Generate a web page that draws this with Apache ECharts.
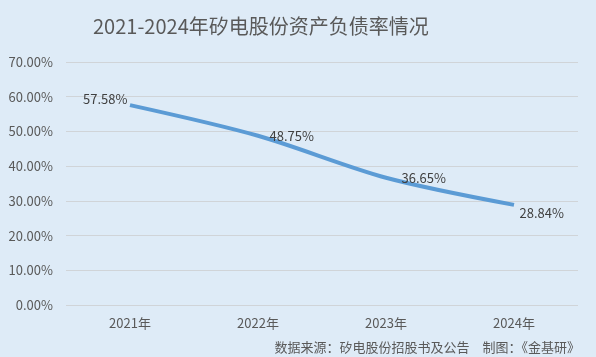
<!DOCTYPE html>
<html><head><meta charset="utf-8">
<script src="https://cdn.jsdelivr.net/npm/echarts@6/dist/echarts.min.js"></script>
<style>html,body{margin:0;padding:0;background:#deebf7;}#c{width:596px;height:357px;}</style>
</head><body><div id="c"></div>
<script>
const categories = ['2021年','2022年','2023年','2024年'];
const debtRatio = [57.58, 48.75, 36.65, 28.84];
const titleText = '2021-2024年矽电股份资产负债率情况';
const sourceText = '数据来源：矽电股份招股书及公告　制图：《金基研》';
const labelPos = [['left',[3,-6]],['right',[6,0]],['right',[10,0]],['right',[0,8]]];

const chart = echarts.init(document.getElementById('c'));
const font = '"Noto Sans CJK SC", "Noto Sans", sans-serif';
chart.setOption({
  backgroundColor: '#deebf7',
  textStyle: {fontFamily: font},
  title: [{
    text: titleText, left: 88, top: 11,
    textStyle: {fontSize: 20, fontWeight: 'normal', color: '#595959', fontFamily: font}
  },{
    text: sourceText, right: 11, top: 336,
    textStyle: {fontSize: 13, fontWeight: 'normal', color: '#595959', fontFamily: font}
  }],
  grid: {left: 66, right: 18, top: 62, bottom: 52},
  xAxis: {
    type: 'category', data: categories, boundaryGap: true,
    axisLine: {show: false}, axisTick: {show: false},
    axisLabel: {color: '#595959', fontSize: 13, margin: 12, fontFamily: font}
  },
  yAxis: {
    type: 'value', min: 0, max: 70, interval: 10,
    axisLine: {show: false}, axisTick: {show: false},
    axisLabel: {color: '#595959', fontSize: 13, margin: 13, formatter: v => v.toFixed(2) + '%', fontFamily: font},
    splitLine: {lineStyle: {color: '#d0d4d8', width: 1}}
  },
  series: [{
    type: 'line', data: debtRatio.map((v,i)=>({value:v, label:{position:labelPos[i][0], offset:labelPos[i][1]}})),
    smooth: 0.3, symbol: 'circle', symbolSize: 1, showSymbol: true,
    itemStyle: {color: 'rgba(0,0,0,0)'},
    lineStyle: {color: '#5b9bd5', width: 4},
    label: {show: true, formatter: p => p.value.toFixed(2) + '%', color: '#404040', fontSize: 13, fontFamily: font}
  }]
});
</script></body></html>
